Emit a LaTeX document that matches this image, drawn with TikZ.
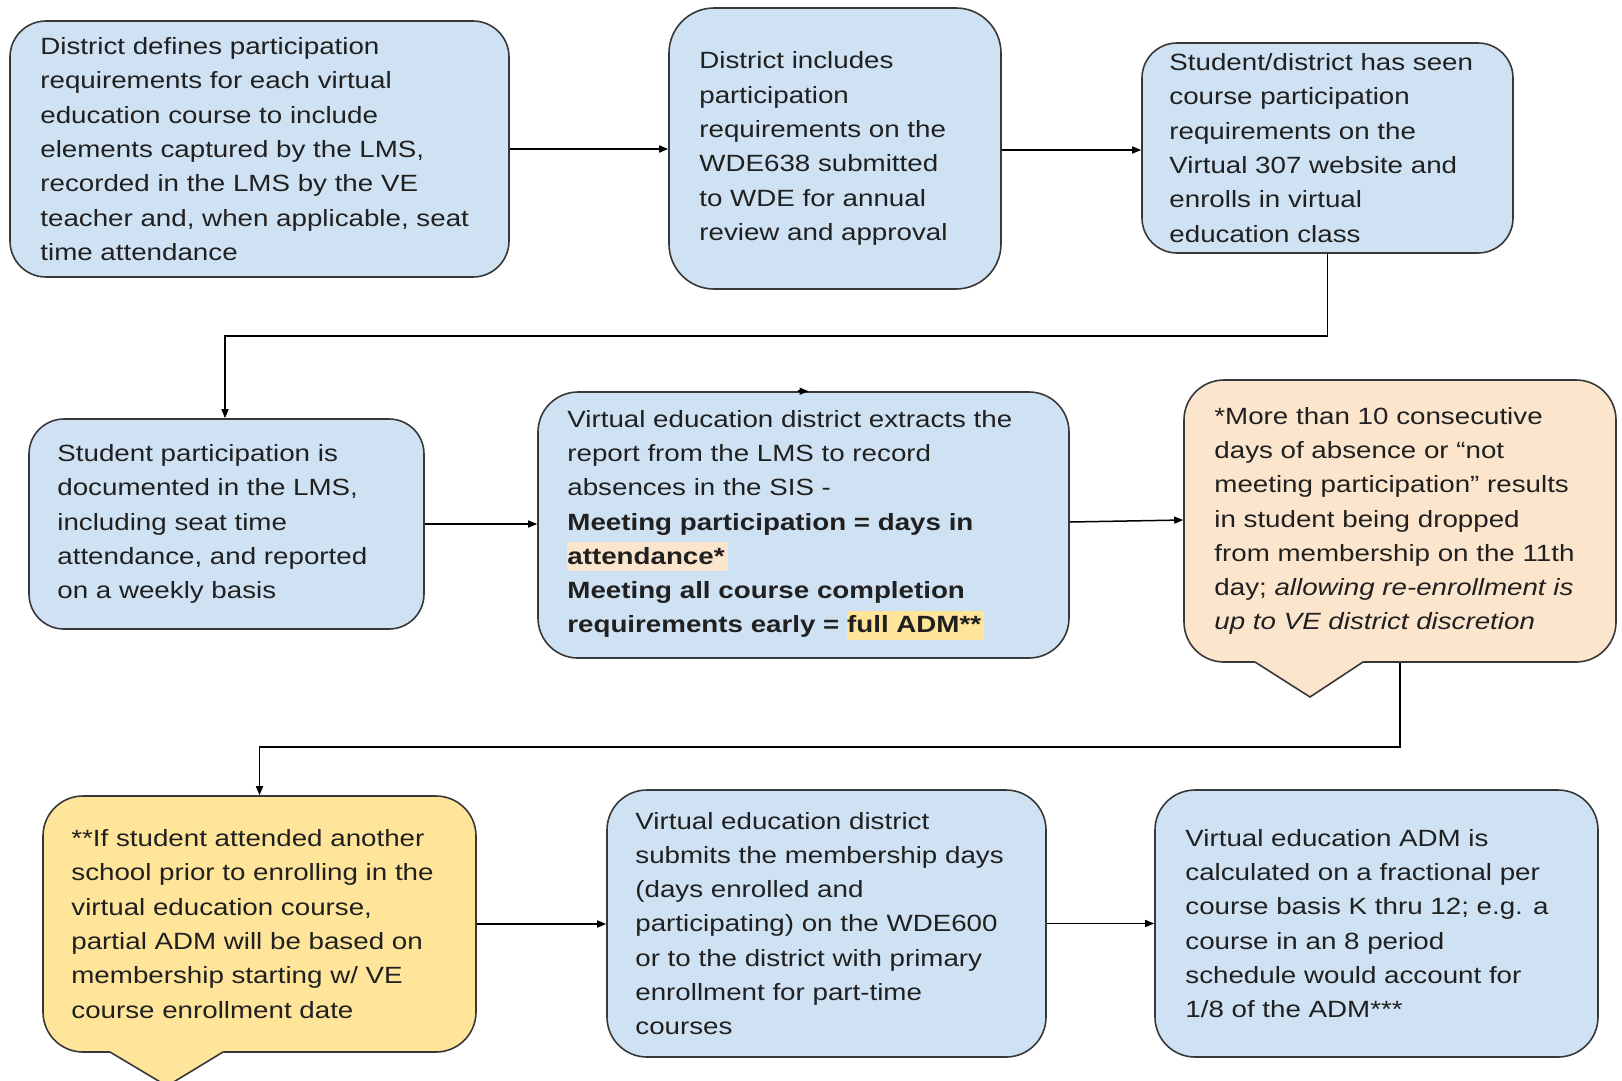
\documentclass[tikz,border=0pt]{standalone}
\usepackage{fontspec}
\setmainfont[FakeStretch=1.18]{Liberation Sans}
\usetikzlibrary{arrows.meta}
\definecolor{boxblue}{HTML}{CFE2F3}
\definecolor{peach}{HTML}{FCE5CD}
\definecolor{sand}{HTML}{FFE599}
\definecolor{bordc}{HTML}{383838}
\definecolor{textc}{HTML}{202020}
\newcommand{\hlbox}[2]{{\setlength{\fboxsep}{0pt}\colorbox{#1}{\rule[-7pt]{0pt}{29pt}#2\hspace{3pt}}}}
\tikzset{
  box/.style={draw=bordc, line width=1.6pt, fill=boxblue, rounded corners=#1, inner sep=0pt},
  box/.default=36pt,
  txt/.style={anchor=west, align=left, inner sep=0pt, text=textc,
    font=\fontsize{23.5}{34.3}\selectfont},
  conn/.style={draw=black, line width=1.5pt, -{Triangle[length=9pt,width=7pt]}},
  tail/.style={draw=bordc, line width=1.6pt, line join=miter}
}
\begin{document}
\begin{tikzpicture}[x=1pt,y=-1pt]
\useasboundingbox (0,0) rectangle (1622,1080);
\fill[white] (0,0) rectangle (1622,1080);

% boxes
\node[box=36pt, minimum width=499pt, minimum height=256pt] (b1) at (259.5,149) {};
\node[box=45pt, minimum width=332pt, minimum height=281pt] (b2) at (835,148.5) {};
\node[box=35pt, minimum width=371pt, minimum height=210pt] (b3) at (1327.5,148) {};
\node[box=35pt, minimum width=395pt, minimum height=210pt] (b4) at (226.5,524) {};
\node[box=40pt, minimum width=531pt, minimum height=266pt] (b5) at (803.5,525) {};
\node[box=40pt, fill=peach, minimum width=432pt, minimum height=282pt] (b6) at (1400,521) {};
\node[box=40pt, fill=sand, minimum width=433pt, minimum height=256pt] (b7) at (259.5,924) {};
\node[box=40pt, minimum width=439pt, minimum height=267pt] (b8) at (826.5,923.5) {};
\node[box=40pt, minimum width=443pt, minimum height=267pt] (b9) at (1376.5,923.5) {};

% callout tails
\fill[peach] (1255,655) -- (1363,655) -- (1363,662) -- (1310,697) -- (1255,662) -- cycle;
\draw[tail] (1255,662) -- (1310,697) -- (1363,662);
\fill[sand] (110,1045) -- (223,1045) -- (223,1052) -- (167,1086) -- (110,1052) -- cycle;
\draw[tail] (110,1052) -- (167,1086) -- (223,1052);

% texts
\node[txt] (t1) at ([xshift=31pt]b1.west) {District defines participation\\requirements for each virtual\\education course to include\\elements captured by the LMS,\\recorded in the LMS by the VE\\teacher and, when applicable, seat\\time attendance};
\node[txt] (t2) at ([xshift=31pt]b2.west) {District includes\\participation\\requirements on the\\WDE638 submitted\\to WDE for annual\\review and approval};
\node[txt] (t3) at ([xshift=28pt]b3.west) {Student/district has seen\\course participation\\requirements on the\\Virtual 307 website and\\enrolls in virtual\\education class};
\node[txt] (t4) at ([xshift=29pt]b4.west) {Student participation is\\documented in the LMS,\\including seat time\\attendance, and reported\\on a weekly basis};
\node[txt] (t5) at ([xshift=30pt]b5.west) {Virtual education district extracts the\\report from the LMS to record\\absences in the SIS -\\\textbf{Meeting participation = days in}\\\textbf{\hlbox{peach}{attendance*}}\\\textbf{Meeting all course completion}\\\textbf{requirements early = \hlbox{sand}{full ADM**}}};
\node[txt] (t6) at ([xshift=31pt]b6.west) {*More than 10 consecutive\\days of absence or “not\\meeting participation” results\\in student being dropped\\from membership on the 11th\\day; \textit{allowing re-enrollment is}\\\textit{up to VE district discretion}};
\node[txt] (t7) at ([xshift=29pt]b7.west) {**If student attended another\\school prior to enrolling in the\\virtual education course,\\partial ADM will be based on\\membership starting w/ VE\\course enrollment date};
\node[txt] (t8) at ([xshift=29pt]b8.west) {Virtual education district\\submits the membership days\\(days enrolled and\\participating) on the WDE600\\or to the district with primary\\enrollment for part-time\\courses};
\node[txt] (t9) at ([xshift=31pt]b9.west) {Virtual education ADM is\\calculated on a fractional per\\course basis K thru 12; e.g. a\\course in an 8 period\\schedule would account for\\1/8 of the ADM***};

% connectors
\coordinate (m1) at (0,336);
\coordinate (m2) at (0,747);
\draw[conn] (b1.east) -- (b1.east -| b2.west);
\draw[conn] ([yshift=-1.5pt]b2.east) -- ([yshift=-1.5pt]b2.east -| b3.west);
\draw[conn] (b3.south) -- (b3.south |- m1) -- ([xshift=-1.5pt]b4.north |- m1) -- ([xshift=-1.5pt]b4.north);
\draw[conn] (b4.east) -- (b4.east -| b5.west);
\draw[conn] ([yshift=3pt]b5.east) -- ([yshift=1pt]b6.west);
\draw[conn] (b6.south) -- (b6.south |- m2) -- (b7.north |- m2) -- (b7.north);
\draw[conn] (b7.east) -- (b7.east -| b8.west);
\draw[conn] (b8.east) -- (b8.east -| b9.west);
\draw[conn] ([xshift=-6pt]b5.north) -- ([xshift=5pt]b5.north);
\end{tikzpicture}
\end{document}
